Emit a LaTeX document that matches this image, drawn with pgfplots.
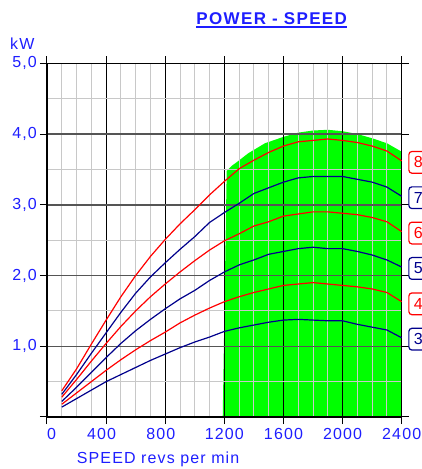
\documentclass[border=0pt]{standalone}
\usepackage{fontspec}
\setmainfont{Liberation Sans}[LetterSpace=7]
\newfontfamily\titlefont{Liberation Sans}[LetterSpace=8]
\usepackage{pgfplots}
\pgfplotsset{compat=1.18}
\usepackage{pgfplotstable}

\definecolor{txtblue}{RGB}{30,30,255}
\definecolor{navyline}{RGB}{0,0,140}
\definecolor{powergreen}{RGB}{0,255,0}
\definecolor{minorgrid}{RGB}{200,200,200}
\definecolor{majorgrid}{RGB}{85,85,85}

% power curves, kW against rpm
\pgfplotstableread{
rpm  k8   k7   k6   k5   k4   k3
100  0.37 0.32 0.28 0.22 0.18 0.14
200  0.68 0.60 0.53 0.42 0.34 0.26
300  1.03 0.90 0.79 0.63 0.50 0.38
400  1.37 1.19 1.04 0.84 0.66 0.50
500  1.70 1.48 1.28 1.04 0.81 0.60
600  2.00 1.75 1.50 1.22 0.95 0.70
700  2.27 1.98 1.70 1.38 1.08 0.80
800  2.51 2.18 1.88 1.53 1.20 0.89
900  2.73 2.37 2.05 1.67 1.33 0.98
1000 2.93 2.55 2.21 1.79 1.44 1.06
1100 3.14 2.75 2.36 1.93 1.54 1.13
1200 3.33 2.89 2.49 2.05 1.63 1.21
1300 3.51 3.02 2.59 2.15 1.70 1.26
1400 3.63 3.16 2.70 2.22 1.76 1.30
1500 3.74 3.24 2.76 2.30 1.81 1.34
1600 3.83 3.32 2.84 2.34 1.86 1.37
1700 3.89 3.38 2.87 2.38 1.88 1.38
1800 3.91 3.40 2.90 2.40 1.90 1.37
1900 3.93 3.40 2.90 2.38 1.88 1.36
2000 3.91 3.40 2.88 2.38 1.86 1.36
2100 3.88 3.36 2.86 2.34 1.84 1.31
2200 3.83 3.32 2.82 2.29 1.81 1.27
2300 3.76 3.25 2.76 2.22 1.76 1.23
2400 3.62 3.12 2.62 2.12 1.63 1.12
}\curves

% green working area
\pgfplotstableread{
rpm  kw
1189 0
1216 3.48
1250 3.55
1295 3.62
1363 3.73
1475 3.87
1600 3.96
1700 4.02
1800 4.05
1900 4.06
2000 4.04
2100 4.00
2200 3.94
2300 3.87
2400 3.75
2400 0
}\envelope

\begin{document}
\begin{tikzpicture}
\begin{axis}[
  set layers,
  scale only axis,
  width=354.7pt, height=353.7pt,
  at={(0pt,0pt)}, anchor=south west,
  xmin=0, xmax=2400, ymin=0, ymax=5,
  clip=false,
  xtick={0,400,...,2400},
  xticklabels={\hphantom{0}0,400\hphantom{0},800\hphantom{0},1200,1600,2000,2400},
  ytick={0,1,2,3,4,5},
  yticklabels={{},{1,0},{2,0},{3,0},{4,0},{5,0}},
  minor x tick num=3, minor y tick num=1,
  grid=both,
  minor grid style={minorgrid, line width=1pt},
  major x grid style={black, line width=1pt},
  major y grid style={majorgrid, line width=1.5pt},
  tick align=outside,
  major tick length=7pt, minor tick length=0pt,
  tick style={black, line width=1pt},
  axis line style={black, line width=1.3pt},
  xticklabel style={font=\fontsize{16}{19}\selectfont, text=txtblue, anchor=north, inner sep=0pt, yshift=-4pt},
  yticklabel style={font=\fontsize{16}{19}\selectfont, text=txtblue, anchor=east, inner sep=0pt, xshift=-3pt},
]
\addplot[fill=powergreen, draw=none, on layer=axis background] table[x=rpm, y=kw] {\envelope};

\addplot[red, line width=1.2pt] table[x=rpm, y=k8] {\curves};
\addplot[navyline, line width=1.2pt] table[x=rpm, y=k7] {\curves};
\addplot[red, line width=1.2pt] table[x=rpm, y=k6] {\curves};
\addplot[navyline, line width=1.2pt] table[x=rpm, y=k5] {\curves};
\addplot[red, line width=1.2pt] table[x=rpm, y=k4] {\curves};
\addplot[navyline, line width=1.2pt] table[x=rpm, y=k3] {\curves};

\tikzset{curvelabel/.style={anchor=west, fill=white, rounded corners=3pt, line width=1.2pt,
  minimum height=21.7pt, inner xsep=5pt, font=\fontsize{16}{19}\selectfont}}
\node[curvelabel, draw=red, text=red] at ([xshift=6.6pt]axis cs:2400,3.6) {8};
\node[curvelabel, draw=navyline, text=navyline] at ([xshift=6.6pt]axis cs:2400,3.1) {7};
\node[curvelabel, draw=red, text=red] at ([xshift=6.6pt]axis cs:2400,2.6) {6};
\node[curvelabel, draw=navyline, text=navyline] at ([xshift=6.6pt]axis cs:2400,2.1) {5};
\node[curvelabel, draw=red, text=red] at ([xshift=6.6pt]axis cs:2400,1.6) {4};
\node[curvelabel, draw=navyline, text=navyline] at ([xshift=6.6pt]axis cs:2400,1.1) {3};
\end{axis}

\node[anchor=base, inner sep=0pt, text=txtblue, font=\titlefont\bfseries\fontsize{17}{20}\selectfont] (title) at (224.7pt,392pt) {POWER - SPEED};
\draw[txtblue, line width=1.3pt] ([yshift=-2pt]title.base west) -- ([yshift=-2pt]title.base east);
\node[anchor=base west, inner sep=0pt, text=txtblue, font=\fontsize{16}{19}\selectfont] at (-37pt,367pt) {kW};
\node[anchor=base west, inner sep=0pt, text=txtblue, font=\fontsize{16}{19}\selectfont] at (29.7pt,-46pt) {SPEED revs per min};

\pgfresetboundingbox
\path[use as bounding box] (-47pt,-52pt) rectangle (374pt,417pt);
\end{tikzpicture}
\end{document}
